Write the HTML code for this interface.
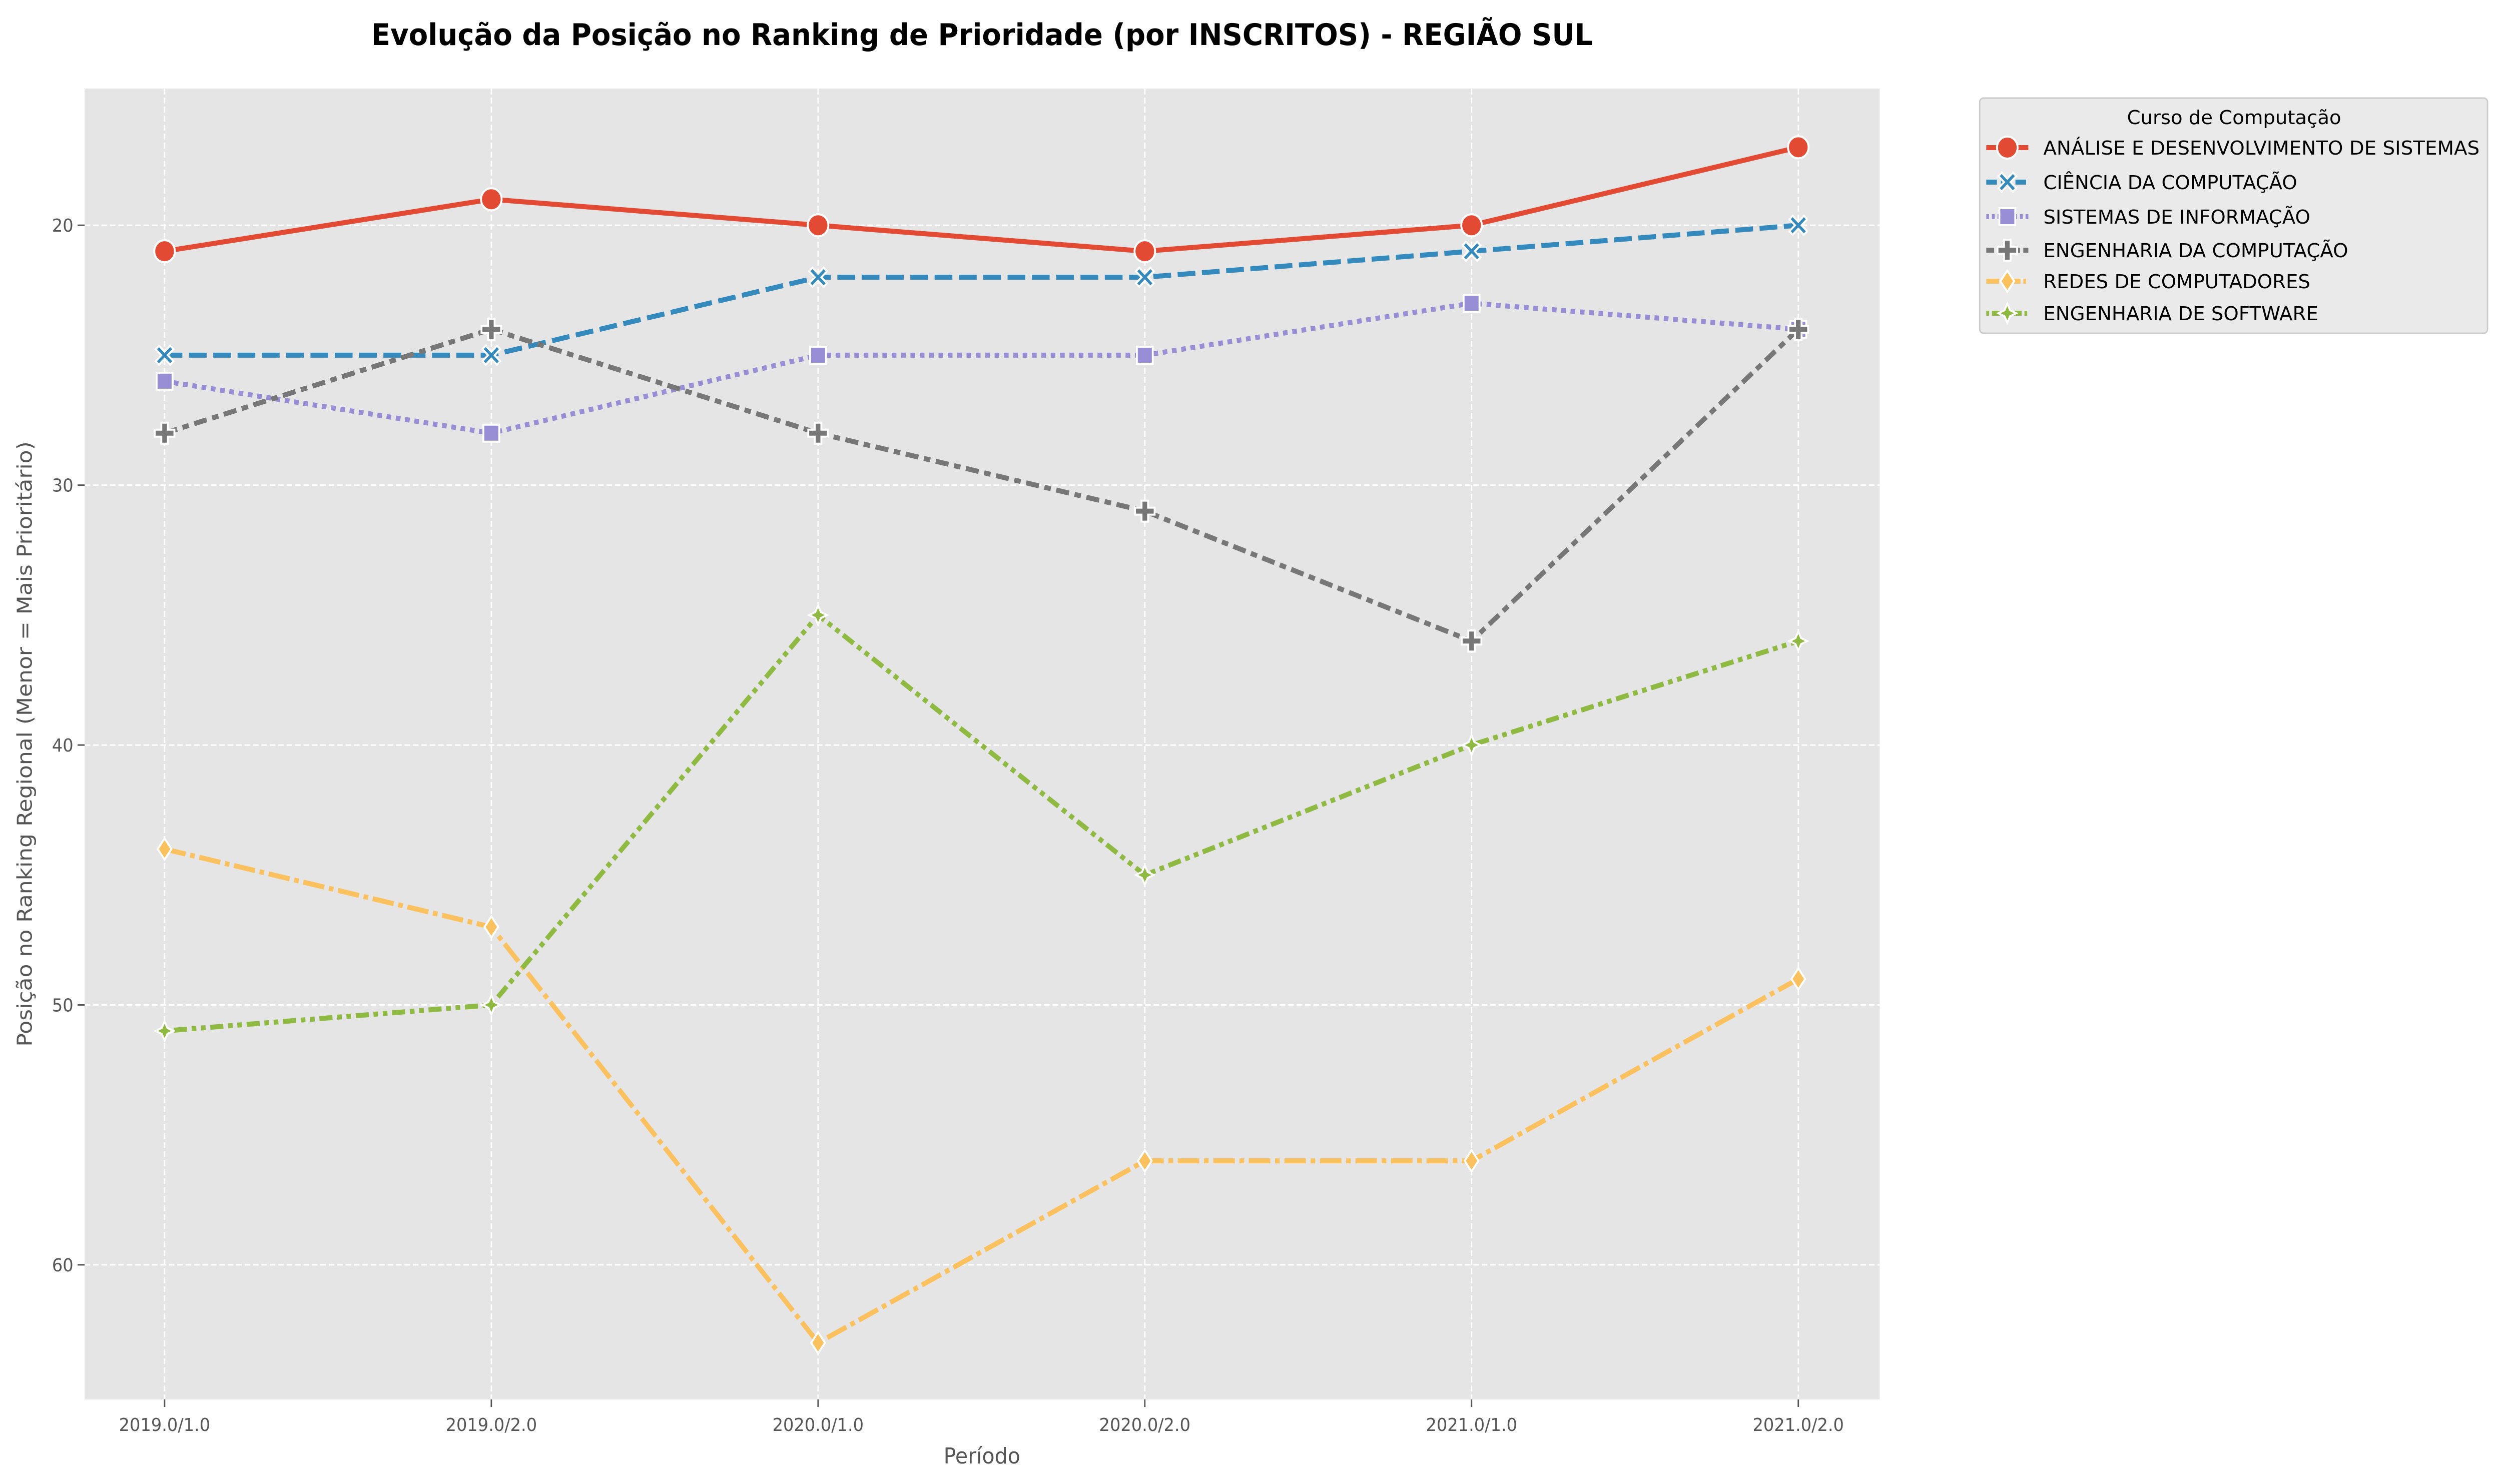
<!DOCTYPE html>
<html><head><meta charset="utf-8">
<style>
html,body{margin:0;padding:0;background:#fff;width:100%;height:100%;overflow:hidden;}
svg{display:block;width:100vw;height:100vh;font-family:"DejaVu Sans","Liberation Sans",sans-serif;}
</style></head>
<body>
<svg id="chart" xmlns="http://www.w3.org/2000/svg" viewBox="0 0 5351 2966" preserveAspectRatio="none" overflow="hidden">
<rect width="5351" height="2966" fill="#ffffff"/>
<text x="2100" y="90" text-anchor="middle" font-size="60" font-weight="bold" fill="#000">Evolução da Posição no Ranking de Prioridade (por INSCRITOS) - REGIÃO SUL</text>
<rect x="181" y="177" width="3839" height="2620" fill="#E5E5E5"/>
<g id="grid"></g>
<g id="axes"></g>
<g id="series"></g>
<text x="2100" y="2925" text-anchor="middle" font-size="44" fill="#555">Período</text>
<text transform="translate(68,1487) rotate(-90)" text-anchor="middle" font-size="44" fill="#555">Posição no Ranking Regional (Menor = Mais Prioritário)</text>
<g>
<rect x="4234" y="196" width="1086" height="470" rx="8" fill="#E5E5E5" fill-opacity="0.8" stroke="#cccccc" stroke-width="3"/>
<text x="4549" y="248" font-size="38" fill="#000" textLength="458" lengthAdjust="spacingAndGlyphs">Curso de Computação</text>
<g id="legend-entries"></g>
</g>
</svg>
<script>
const periods = ["2019.0/1.0","2019.0/2.0","2020.0/1.0","2020.0/2.0","2021.0/1.0","2021.0/2.0"];
const yTicks = [20,30,40,50,60];
const seriesNames = ["ANÁLISE E DESENVOLVIMENTO DE SISTEMAS","CIÊNCIA DA COMPUTAÇÃO","SISTEMAS DE INFORMAÇÃO","ENGENHARIA DA COMPUTAÇÃO","REDES DE COMPUTADORES","ENGENHARIA DE SOFTWARE"];
const adsValues = [21,19,20,21,20,17];
const ccValues = [25,25,22,22,21,20];
const siValues = [26,28,25,25,23,24];
const ecValues = [28,24,28,31,36,24];
const redesValues = [44,47,63,56,56,49];
const esValues = [51,50,35,45,40,36];

const NS="http://www.w3.org/2000/svg";
const X0=181,X1=4020,Y0=177,Y1=2797;
const yMin=14.74,yMax=65.18;
function xs(i){return 352+i*(3846-352)/(periods.length-1);}
function ys(v){return Y0+(v-yMin)/(yMax-yMin)*(Y1-Y0);}
function mk(tag,attrs,parent){const e=document.createElementNS(NS,tag);for(const k in attrs)e.setAttribute(k,attrs[k]);parent.appendChild(e);return e;}

const grid=document.getElementById('grid'), axes=document.getElementById('axes'), ser=document.getElementById('series');
periods.forEach((p,i)=>{
  const g=mk('line',{x1:xs(i),x2:xs(i),y1:Y0,y2:Y1,stroke:'#fff','stroke-width':3,'stroke-dasharray':'12,6'},grid);
  
  
  const t=mk('line',{x1:xs(i),x2:xs(i),y1:Y1,y2:Y1+15,stroke:'#555','stroke-width':3},axes);
  
  
  const l=mk('text',{x:xs(i),y:2860,'text-anchor':'middle','font-size':36,fill:'#555'},axes);
  l.textContent=p;
  
  
});
yTicks.forEach(v=>{
  const g=mk('line',{x1:X0,x2:X1,y1:ys(v),y2:ys(v),stroke:'#fff','stroke-width':3,'stroke-dasharray':'12,6'},grid);
  
  
  const t=mk('line',{x1:X0-15,x2:X0,y1:ys(v),y2:ys(v),stroke:'#555','stroke-width':3},axes);
  
  
  const l=mk('text',{x:X0-24,y:ys(v)+13,'text-anchor':'end','font-size':36,fill:'#555'},axes);
  l.textContent=v;
  
  
});

const allValues=[adsValues,ccValues,siValues,ecValues,redesValues,esValues];
const colors=['#E24A33','#348ABD','#988ED5','#777777','#FBC15E','#8EBA42'];
const dashes=['','38,14','10,10','28,12,14,12','46,10,10,10','10,10,28,10,10,10'];
const markers=['circle','x','square','plus','diamond','star'];
const keys=['ads','cc','si','ec','redes','es'];

function marker(type,cx,cy,color,parent,s){
  s=s||1;let e;
  const st={fill:color,stroke:'#fff','stroke-width':4};
  if(type==='circle'){e=mk('circle',Object.assign({cx:cx,cy:cy,r:22*s},st),parent);}
  else if(type==='square'){e=mk('rect',Object.assign({x:cx-17*s,y:cy-17*s,width:34*s,height:34*s},st),parent);}
  else if(type==='diamond'){const r=21*s;e=mk('polygon',Object.assign({points:`${cx},${cy-r} ${cx+r*0.7},${cy} ${cx},${cy+r} ${cx-r*0.7},${cy}`},st),parent);}
  else if(type==='star'){const r=19*s,q=6*s;e=mk('polygon',Object.assign({points:`${cx},${cy-r} ${cx+q},${cy-q} ${cx+r},${cy} ${cx+q},${cy+q} ${cx},${cy+r} ${cx-q},${cy+q} ${cx-r},${cy} ${cx-q},${cy-q}`},st),parent);}
  else if(type==='plus'){const a=21*s,b=7*s;e=mk('path',Object.assign({d:`M${cx-b},${cy-a}h${2*b}v${a-b}h${a-b}v${2*b}h${-(a-b)}v${a-b}h${-2*b}v${-(a-b)}h${-(a-b)}v${-2*b}h${a-b}z`},st),parent);}
  else {const a=19*s,b=7*s;e=mk('path',Object.assign({d:`M${cx-a},${cy-a+b}l${b},${-b}l${a-b},${a-b}l${a-b},${-(a-b)}l${b},${b}l${-(a-b)},${a-b}l${a-b},${a-b}l${-b},${b}l${-(a-b)},${-(a-b)}l${-(a-b)},${a-b}l${-b},${-b}l${a-b},${-(a-b)}z`},st),parent);}
  return e;
}

allValues.forEach((vals,k)=>{
  const g=mk('g',{},ser);
  
  
  const pts=vals.map((v,i)=>xs(i)+','+ys(v)).join(' ');
  const pl=mk('polyline',{points:pts,fill:'none',stroke:colors[k],'stroke-width':10,'stroke-dasharray':dashes[k],'stroke-linejoin':'round'},g);
  
  
  vals.forEach((v,i)=>{
    const m=marker(markers[k],xs(i),ys(v),colors[k],g);
    
    
  });
});

const le=document.getElementById('legend-entries');
const ly=[295,364,433,500,562,626];
const lw=[933,543,571,652,571,588];
seriesNames.forEach((n,k)=>{
  const g=mk('g',{},le);
  
  
  const l=mk('line',{x1:4248,x2:4338,y1:ly[k],y2:ly[k],stroke:colors[k],'stroke-width':10,'stroke-dasharray':dashes[k]?dashes[k].split(',').map(x=>x*0.6).join(','):''},g);
  
  
  const m=marker(markers[k],4293,ly[k],colors[k],g,1.0);
  
  
  const t=mk('text',{x:4370,y:ly[k]+14,'font-size':38,fill:'#000',textLength:lw[k],lengthAdjust:'spacingAndGlyphs'},g);
  t.textContent=n;
  
  
});
</script>
</body></html>
